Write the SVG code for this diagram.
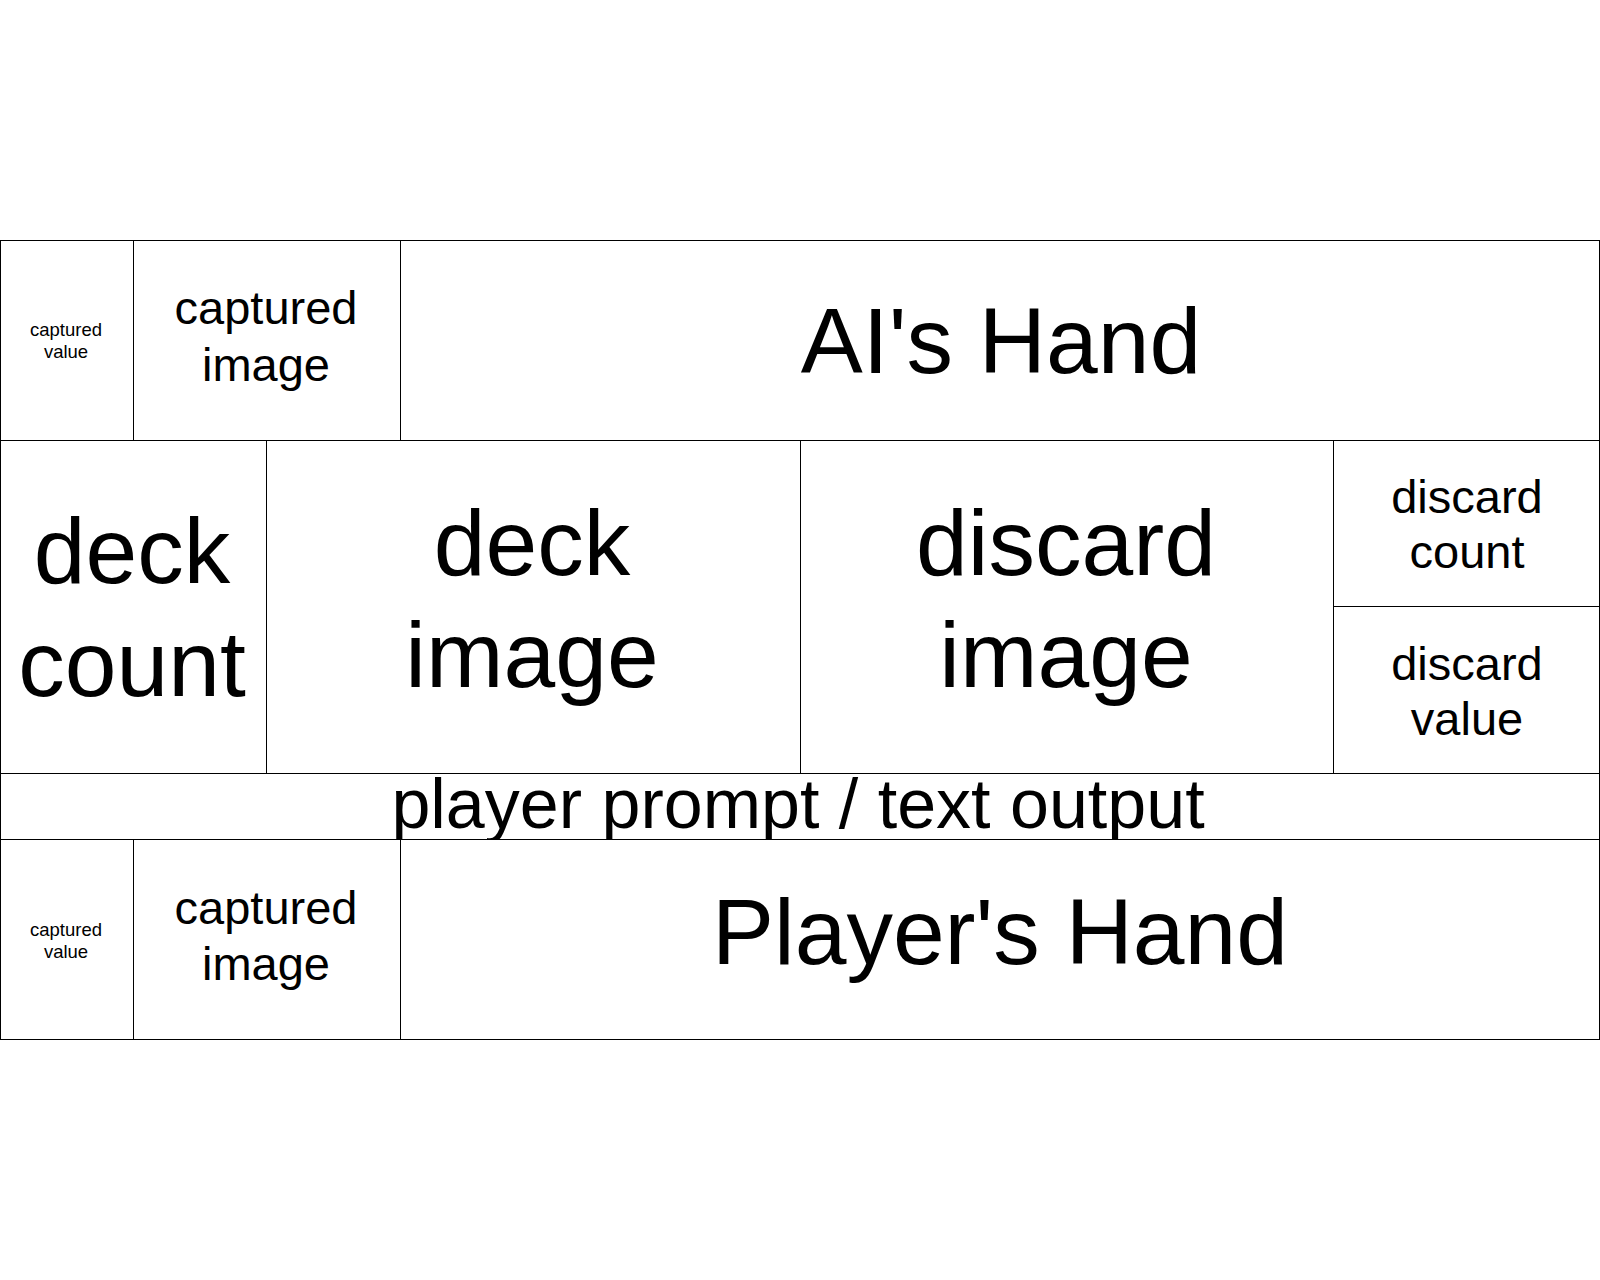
<svg xmlns="http://www.w3.org/2000/svg" width="1600" height="1280" viewBox="0 0 1600 1280">
<style>
  .cell { fill: #ffffff; stroke: #000000; stroke-width: 1; }
  text { font-family: "Liberation Sans", Arial, sans-serif; fill: #000000; text-anchor: middle; }
  .s { font-size: 18.5px; }
  .m { font-size: 47px; }
  .p { font-size: 70px; }
  .l { font-size: 93px; }
</style>
<rect x="0" y="0" width="1600" height="1280" fill="#ffffff"/>
<g id="ai-captured-value">
  <rect class="cell" x="0.5" y="240.5" width="133" height="200"/>
  <text class="s" x="66" y="336">captured</text>
  <text class="s" x="66" y="358">value</text>
</g>
<g id="ai-captured-image">
  <rect class="cell" x="133.5" y="240.5" width="267" height="200"/>
  <text class="m" x="266" y="324">captured</text>
  <text class="m" x="266" y="381">image</text>
</g>
<g id="ai-hand">
  <rect class="cell" x="400.5" y="240.5" width="1199" height="200"/>
  <text class="l" x="1001" y="373">AI's Hand</text>
</g>
<g id="deck-count">
  <rect class="cell" x="0.5" y="440.5" width="266" height="333"/>
  <text class="l" x="132" y="583">deck</text>
  <text class="l" x="132" y="696">count</text>
</g>
<g id="deck-image">
  <rect class="cell" x="266.5" y="440.5" width="534" height="333"/>
  <text class="l" x="532" y="575">deck</text>
  <text class="l" x="532" y="687">image</text>
</g>
<g id="discard-image">
  <rect class="cell" x="800.5" y="440.5" width="533" height="333"/>
  <text class="l" x="1066" y="575">discard</text>
  <text class="l" x="1066" y="687">image</text>
</g>
<g id="discard-count">
  <rect class="cell" x="1333.5" y="440.5" width="266" height="166"/>
  <text class="m" x="1467" y="513">discard</text>
  <text class="m" x="1467" y="568">count</text>
</g>
<g id="discard-value">
  <rect class="cell" x="1333.5" y="606.5" width="266" height="167"/>
  <text class="m" x="1467" y="680">discard</text>
  <text class="m" x="1467" y="735">value</text>
</g>
<g id="player-prompt">
  <rect class="cell" x="0.5" y="773.5" width="1599" height="66"/>
  <text class="p" x="798" y="828">player prompt / text output</text>
</g>
<g id="player-captured-value">
  <rect class="cell" x="0.5" y="839.5" width="133" height="200"/>
  <text class="s" x="66" y="936">captured</text>
  <text class="s" x="66" y="958">value</text>
</g>
<g id="player-captured-image">
  <rect class="cell" x="133.5" y="839.5" width="267" height="200"/>
  <text class="m" x="266" y="924">captured</text>
  <text class="m" x="266" y="980">image</text>
</g>
<g id="player-hand">
  <rect class="cell" x="400.5" y="839.5" width="1199" height="200"/>
  <text class="l" x="1000" y="964">Player's Hand</text>
</g>
<g id="connectors"></g>
</svg>
